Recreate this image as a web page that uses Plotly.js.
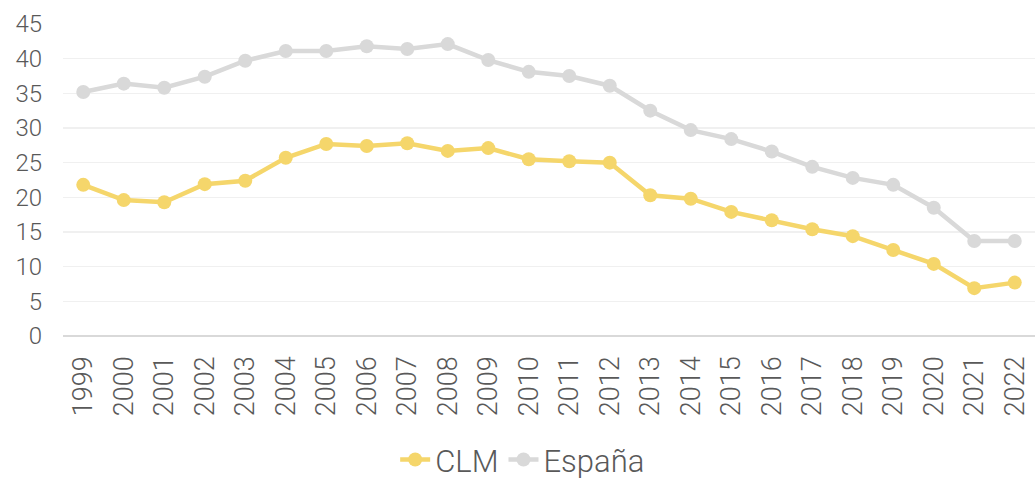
<!DOCTYPE html>
<html><head><meta charset="utf-8">
<script src="https://cdn.plot.ly/plotly-3.0.1.min.js"></script>
<style>body{margin:0;background:#fff}#chart{width:1035px;height:483px}</style>
</head><body><div id="chart"></div>
<script>
const years = ['1999','2000','2001','2002','2003','2004','2005','2006','2007','2008','2009','2010','2011','2012','2013','2014','2015','2016','2017','2018','2019','2020','2021','2022'];
const clm = [21.8,19.6,19.3,21.9,22.4,25.7,27.7,27.4,27.8,26.7,27.1,25.5,25.2,25.0,20.3,19.8,17.9,16.7,15.4,14.4,12.4,10.4,6.9,7.7];
const espana = [35.2,36.4,35.8,37.4,39.7,41.1,41.1,41.8,41.4,42.1,39.8,38.1,37.5,36.1,32.5,29.7,28.4,26.6,24.4,22.8,21.8,18.5,13.7,13.7];
const yTicks = [0,5,10,15,20,25,30,35,40,45];

const traces = [
  {x: years, y: clm, name: 'CLM', type: 'scatter', mode: 'lines+markers',
   line: {color: '#F5D66B', width: 4.5}, marker: {color: '#F5D66B', size: 14}},
  {x: years, y: espana, name: 'España', type: 'scatter', mode: 'lines+markers',
   line: {color: '#D9D9D9', width: 4.5}, marker: {color: '#D9D9D9', size: 14}}
];
const layout = {
  width: 1035, height: 483,
  margin: {l: 63, r: 0, t: 24, b: 147, autoexpand: false},
  paper_bgcolor: '#fff', plot_bgcolor: '#fff',
  font: {family: 'Roboto, sans-serif', color: '#595959', size: 24, weight: 300},
  showlegend: true,
  legend: {orientation: 'h', x: 0.505, xref: 'container', xanchor: 'center',
           y: 0.048, yref: 'container', yanchor: 'middle',
           font: {size: 31, color: '#595959', weight: 300}, tracegroupgap: 0, borderwidth: 0},
  xaxis: {type: 'category', range: [-0.5, 23.5], tickangle: -90, showgrid: false, automargin: false,
          zeroline: false, showline: false, ticks: '', ticklabelstandoff: 14,
          tickfont: {size: 27, color: '#595959', weight: 300}},
  yaxis: {range: [0, 45], tickvals: yTicks, ticktext: yTicks.map(String), showgrid: true,
          gridcolor: '#F0F0F0', gridwidth: 1.5, zeroline: true, zerolinecolor: '#D9D9D9',
          zerolinewidth: 2, showline: false, ticks: '', ticklen: 0, ticklabelstandoff: 20,
          tickfont: {size: 24, color: '#595959', weight: 300}, automargin: false}
};
Plotly.newPlot('chart', traces, layout, {displayModeBar: false, staticPlot: true});
</script></body></html>
